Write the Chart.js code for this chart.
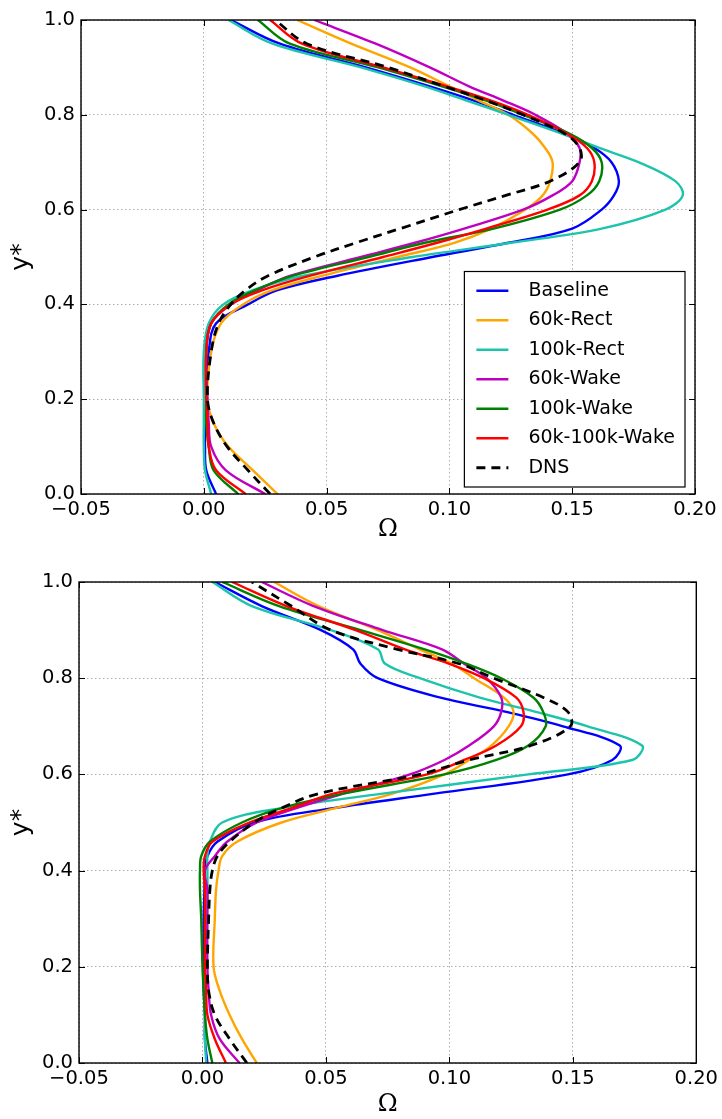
<!DOCTYPE html>
<html>
<head>
<meta charset="utf-8">
<script src="https://cdn.jsdelivr.net/npm/chart.js@4.4.0/dist/chart.umd.min.js"></script>
<style>
  body { margin: 0; background: #fff; }
  canvas { position: absolute; left: 0; }
  #topChart { top: 0; }
  #bottomChart { top: 545px; }
</style>
</head>
<body>
<canvas id="topChart" width="722" height="545"></canvas>
<canvas id="bottomChart" width="722" height="574"></canvas>
<script>
const yStar = [0, 0.05, 0.1, 0.15, 0.2, 0.3, 0.36, 0.4, 0.43, 0.46, 0.5, 0.53, 0.56, 0.6, 0.63, 0.66, 0.7, 0.73, 0.76, 0.8, 0.83, 0.86, 0.9, 0.95, 1.0];
const xTicks = [-0.05, 0, 0.05, 0.1, 0.15, 0.2];
const yTicks = [0, 0.2, 0.4, 0.6, 0.8, 1.0];
const labels = ["Baseline", "60k-Rect", "100k-Rect", "60k-Wake", "100k-Wake", "60k-100k-Wake", "DNS"];
const colors = ["#0000ff", "#ffa500", "#1cc4ac", "#c000c0", "#008000", "#ff0000", "#000000"];

// top panel, Omega values
const baselineTop = [0.005, 0.001, 0.0005, 0.0005, 0.0005, 0.002, 0.005, 0.018, 0.030, 0.054, 0.093, 0.124, 0.150, 0.162, 0.167, 0.169, 0.166, 0.159, 0.147, 0.126, 0.110, 0.092, 0.066, 0.031, 0.011];
const rect60Top = [0.030, 0.020, 0.010, 0.004, 0.0015, 0.003, 0.007, 0.016, 0.028, 0.048, 0.079, 0.102, 0.117, 0.131, 0.138, 0.141, 0.142, 0.139, 0.134, 0.124, 0.112, 0.100, 0.084, 0.060, 0.038];
const rect100Top = [0.003, 0.0005, 0.0, 0.0, 0.0, 0.0, 0.002, 0.008, 0.020, 0.040, 0.085, 0.125, 0.162, 0.188, 0.195, 0.192, 0.177, 0.161, 0.146, 0.124, 0.107, 0.090, 0.064, 0.028, 0.010];
const wake60Top = [0.025, 0.009, 0.003, 0.002, 0.0015, 0.001, 0.003, 0.011, 0.022, 0.035, 0.064, 0.086, 0.106, 0.130, 0.142, 0.150, 0.153, 0.153, 0.148, 0.135, 0.122, 0.108, 0.092, 0.070, 0.045];
const wake100Top = [0.014, 0.004, 0.002, 0.001, 0.001, 0.001, 0.003, 0.010, 0.021, 0.036, 0.067, 0.090, 0.118, 0.145, 0.156, 0.161, 0.162, 0.158, 0.149, 0.130, 0.115, 0.097, 0.071, 0.035, 0.022];
const wakeMixTop = [0.017, 0.005, 0.002, 0.0015, 0.001, 0.001, 0.003, 0.011, 0.024, 0.043, 0.073, 0.095, 0.115, 0.140, 0.153, 0.158, 0.159, 0.156, 0.148, 0.132, 0.117, 0.099, 0.073, 0.040, 0.027];
const dnsTop = [0.027, 0.018, 0.0095, 0.004, 0.0015, 0.003, 0.006, 0.011, 0.017, 0.026, 0.045, 0.062, 0.080, 0.104, 0.123, 0.141, 0.153, 0.153, 0.147, 0.130, 0.115, 0.098, 0.075, 0.042, 0.029];

// bottom panel, Omega values
const baselineBot = [0.002, 0.001, 0.001, 0.0005, 0.0005, 0.0005, 0.0008, 0.001, 0.002, 0.006, 0.021, 0.053, 0.094, 0.148, 0.166, 0.169, 0.146, 0.123, 0.096, 0.071, 0.064, 0.061, 0.048, 0.024, 0.005];
const rect60Bot = [0.022, 0.016, 0.011, 0.007, 0.0045, 0.005, 0.0055, 0.0065, 0.008, 0.014, 0.032, 0.054, 0.077, 0.098, 0.108, 0.117, 0.124, 0.126, 0.122, 0.110, 0.101, 0.088, 0.071, 0.047, 0.029];
const rect100Bot = [0.0015, 0.001, 0.001, 0.001, 0.001, 0.0015, 0.002, 0.002, 0.002, 0.003, 0.008, 0.032, 0.073, 0.132, 0.174, 0.178, 0.156, 0.135, 0.112, 0.088, 0.074, 0.071, 0.052, 0.020, 0.004];
const wake60Bot = [0.015, 0.007, 0.0035, 0.0025, 0.002, 0.002, 0.002, 0.001, 0.005, 0.010, 0.022, 0.038, 0.057, 0.084, 0.098, 0.108, 0.118, 0.121, 0.121, 0.115, 0.106, 0.097, 0.073, 0.045, 0.024];
const wake100Bot = [0.004, 0.002, 0.001, 0.0005, 0.0, -0.0005, -0.001, -0.001, -0.0005, 0.003, 0.016, 0.032, 0.057, 0.098, 0.119, 0.132, 0.139, 0.138, 0.134, 0.121, 0.107, 0.090, 0.064, 0.031, 0.008];
const wakeMixBot = [0.0095, 0.005, 0.002, 0.0015, 0.001, 0.001, 0.001, 0.0005, 0.001, 0.004, 0.019, 0.036, 0.053, 0.091, 0.106, 0.119, 0.129, 0.130, 0.127, 0.114, 0.100, 0.082, 0.062, 0.034, 0.012];
const dnsBot = [0.018, 0.011, 0.005, 0.0025, 0.002, 0.0025, 0.003, 0.004, 0.006, 0.011, 0.021, 0.032, 0.047, 0.088, 0.108, 0.133, 0.149, 0.148, 0.138, 0.118, 0.104, 0.079, 0.052, 0.036, 0.020];

const dnsDash = [9, 6];

Chart.defaults.font.family = "'DejaVu Sans', sans-serif";
Chart.defaults.font.size = 19.5;
Chart.defaults.color = "#000";

// black frame with inward ticks on all four sides
const framePlugin = {
  id: "frame",
  afterDatasetsDraw(chart) {
    const { ctx, chartArea: a, scales } = chart;
    ctx.save();
    ctx.strokeStyle = "#000";
    ctx.lineWidth = 1;
    ctx.beginPath();
    xTicks.forEach(v => {
      const px = Math.round(scales.x.getPixelForValue(v)) + 0.5;
      ctx.moveTo(px, a.bottom); ctx.lineTo(px, a.bottom - 6);
      ctx.moveTo(px, a.top); ctx.lineTo(px, a.top + 6);
    });
    yTicks.forEach(v => {
      const py = Math.round(scales.y.getPixelForValue(v)) + 0.5;
      ctx.moveTo(a.left, py); ctx.lineTo(a.left + 6, py);
      ctx.moveTo(a.right, py); ctx.lineTo(a.right - 6, py);
    });
    ctx.stroke();
    ctx.lineWidth = 1.4;
    ctx.strokeRect(a.left, a.top, a.right - a.left, a.bottom - a.top);
    ctx.restore();
  }
};

// boxed legend in the lower right of the plot area
const legendBoxPlugin = {
  id: "legendBox",
  afterDraw(chart) {
    const { ctx, chartArea: a } = chart;
    const rowH = 29.5;
    const sets = chart.data.datasets;
    ctx.save();
    ctx.font = "19px 'DejaVu Sans'";
    const textW = Math.max(...sets.map(d => ctx.measureText(d.label).width));
    const boxW = 12 + 32 + 20 + textW + 10;
    const boxH = sets.length * rowH + 9;
    const right = a.right - 10;
    const bottom = a.bottom - 7;
    const left = right - boxW;
    const top = bottom - boxH;
    ctx.fillStyle = "#fff";
    ctx.fillRect(left, top, boxW, boxH);
    ctx.strokeStyle = "#000";
    ctx.lineWidth = 1.2;
    ctx.strokeRect(left, top, boxW, boxH);
    sets.forEach((d, i) => {
      const cy = top + 4.5 + rowH * (i + 0.5);
      ctx.strokeStyle = d.borderColor;
      ctx.lineWidth = d.borderWidth;
      ctx.setLineDash(d.borderDash || []);
      ctx.beginPath();
      ctx.moveTo(left + 12, cy);
      ctx.lineTo(left + 44, cy);
      ctx.stroke();
      ctx.setLineDash([]);
      ctx.fillStyle = "#000";
      ctx.textBaseline = "middle";
      ctx.fillText(d.label, left + 64, cy);
    });
    ctx.restore();
  }
};

const makeDatasets = (seriesList) => seriesList.map((s, i) => ({
  label: labels[i],
  data: yStar.map((y, j) => ({ x: s[j], y: y })),
  borderColor: colors[i],
  borderWidth: i === 6 ? 2.8 : 2.4,
  borderDash: i === 6 ? dnsDash : [],
  showLine: true,
  pointRadius: 0,
  tension: 0.35,
  fill: false,
  order: 6 - i
}));

const makeChart = (id, seriesList, box, withLegend) => {
  const ctx = document.getElementById(id).getContext("2d");
  return new Chart(ctx, {
    type: "scatter",
    data: { datasets: makeDatasets(seriesList) },
    options: {
      responsive: false,
      animation: false,
      events: [],
      layout: { padding: { left: 0, right: box.right, top: box.top, bottom: 0 } },
      plugins: { legend: { display: false }, tooltip: { enabled: false } },
      scales: {
        x: {
          type: "linear",
          min: -0.05,
          max: 0.2,
          afterBuildTicks: axis => { axis.ticks = xTicks.map(v => ({ value: v })); },
          afterFit: axis => { axis.height = box.xAxisH; },
          ticks: {
            autoSkip: false,
            maxRotation: 0,
            padding: box.xPad,
            callback: v => (Math.abs(v) < 1e-9 ? 0 : v).toFixed(2).replace("-", "\u2212")
          },
          grid: { color: "rgba(0,0,0,0.4)", lineWidth: 0.8, drawTicks: false },
          border: { display: false, dash: [1.5, 2.5] },
          title: {
            display: true,
            text: "\u03A9",
            font: { family: "'DejaVu Serif'", size: 24 },
            padding: { top: 0, bottom: box.titleBottom }
          }
        },
        y: {
          type: "linear",
          min: 0,
          max: 1,
          afterBuildTicks: axis => { axis.ticks = yTicks.map(v => ({ value: v })); },
          afterFit: axis => { axis.width = box.yAxisW; },
          ticks: {
            autoSkip: false,
            padding: 6,
            callback: v => v.toFixed(1)
          },
          grid: { color: "rgba(0,0,0,0.4)", lineWidth: 0.8, drawTicks: false },
          border: { display: false, dash: [1.5, 2.5] },
          title: {
            display: true,
            text: "y*",
            font: { size: 25 },
            padding: { top: 6, bottom: 0 }
          }
        }
      }
    },
    plugins: withLegend ? [framePlugin, legendBoxPlugin] : [framePlugin]
  });
};

makeChart("topChart",
  [baselineTop, rect60Top, rect100Top, wake60Top, wake100Top, wakeMixTop, dnsTop],
  { right: 27, top: 20, yAxisW: 81, xAxisH: 51, xPad: 4, titleBottom: 1 },
  true);

makeChart("bottomChart",
  [baselineBot, rect60Bot, rect100Bot, wake60Bot, wake100Bot, wakeMixBot, dnsBot],
  { right: 22, top: 37, yAxisW: 79, xAxisH: 56, xPad: 4, titleBottom: 0 },
  false);
</script>
</body>
</html>
